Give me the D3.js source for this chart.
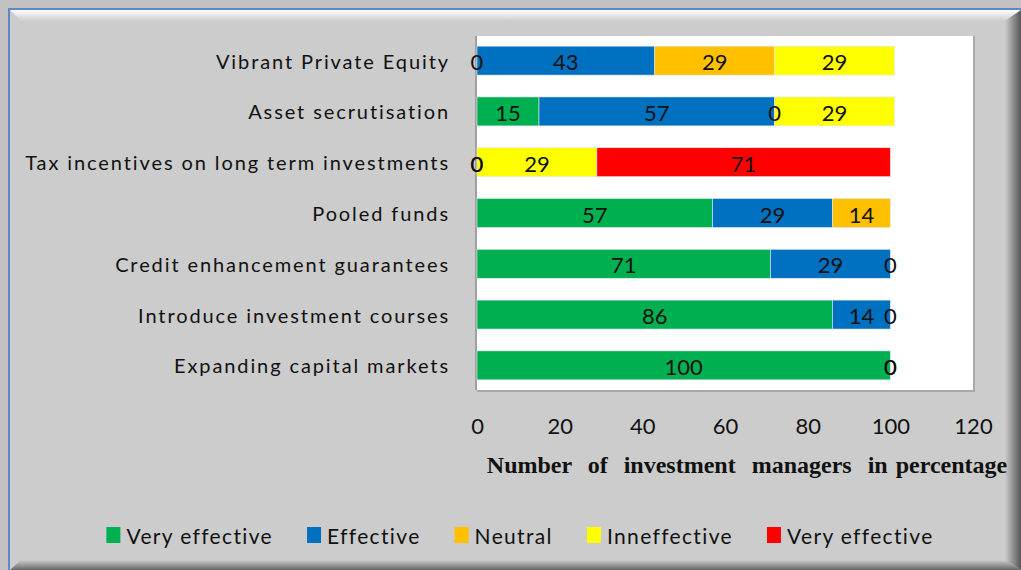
<!DOCTYPE html>
<html>
<head>
<meta charset="utf-8">
<script src="https://cdn.jsdelivr.net/npm/d3@7"></script>
<style>
  body { margin: 0; background: #c2c2c2; }
  svg text { font-family: Lato, "Open Sans", sans-serif; fill: #111; }
</style>
</head>
<body>
<svg id="chart"></svg>
<script>
const categories = [
	"Vibrant Private Equity",
	"Asset secrutisation",
	"Tax incentives on long term investments",
	"Pooled funds",
	"Credit enhancement guarantees",
	"Introduce investment courses",
	"Expanding capital markets"
];

// null = no segment / no label in that row
const veryEffective = [0, 15, 0, 57, 71, 86, 100];
const effective     = [43, 57, 0, 29, 29, 14, 0];
const neutral       = [29, 0, null, 14, 0, 0, 0];
const ineffective   = [29, 29, 29, null, null, null, null];
const veryEffective2 = [null, null, 71, null, null, null, null];

const seriesNames = ["Very effective", "Effective", "Neutral", "Inneffective", "Very effective"];
const seriesColors = ["#00b050", "#0070c0", "#ffc000", "#ffff00", "#ff0000"];
const tickValues = [0, 20, 40, 60, 80, 100, 120];
const axisTitle = "Number  of  investment  managers  in percentage";

const W = 1021, H = 570;
const plot = { left: 477, right: 973, top: 36, bottom: 390 };

const svg = d3.select("#chart").attr("width", W).attr("height", H);
const defs = svg.append("defs");

// frame / bevel
const gTop = defs.append("linearGradient").attr("id", "gTop").attr("x1", 0).attr("y1", 0).attr("x2", 0).attr("y2", 1);
gTop.append("stop").attr("offset", "0%").attr("stop-color", "#ffffff");
gTop.append("stop").attr("offset", "100%").attr("stop-color", "#cccccc");
const gRight = defs.append("linearGradient").attr("id", "gRight").attr("x1", 0).attr("y1", 0).attr("x2", 1).attr("y2", 0);
gRight.append("stop").attr("offset", "0%").attr("stop-color", "#cccccc");
gRight.append("stop").attr("offset", "100%").attr("stop-color", "#555555");
const gBottom = defs.append("linearGradient").attr("id", "gBottom").attr("x1", 0).attr("y1", 0).attr("x2", 0).attr("y2", 1);
gBottom.append("stop").attr("offset", "0%").attr("stop-color", "#cccccc");
gBottom.append("stop").attr("offset", "100%").attr("stop-color", "#666666");

svg.append("rect").attr("width", W).attr("height", H).attr("fill", "#c2c2c2");
svg.append("rect").attr("x", 9).attr("y", 9).attr("width", W - 9).attr("height", H - 9).attr("fill", "#cccccc");
svg.append("polygon").attr("points", `10,10 ${W},10 ${W - 16},21 21,21`).attr("fill", "url(#gTop)");
svg.append("polygon").attr("points", `${W - 16},21 ${W},10 ${W},${H} ${W - 16},${H - 10}`).attr("fill", "url(#gRight)");
svg.append("polygon").attr("points", `21,${H - 10} ${W - 16},${H - 10} ${W},${H} 10,${H}`).attr("fill", "url(#gBottom)");
svg.append("path").attr("d", `M9,${H} V9 H${W}`).attr("fill", "none").attr("stroke", "#5b8ac6").attr("stroke-width", 2);

// scales
const x = d3.scaleLinear().domain([0, 120]).range([plot.left, plot.right]);
const y = d3.scaleBand().domain(categories).range([plot.top, plot.bottom]).paddingInner(0.43).paddingOuter(0.2);

// plot area
svg.append("rect").attr("x", plot.left).attr("y", plot.top)
	.attr("width", plot.right - plot.left).attr("height", plot.bottom - plot.top)
	.attr("fill", "#ffffff");
svg.append("path").attr("d", `M${plot.left},${plot.bottom + 1} H${plot.right + 1} V${plot.top}`)
	.attr("fill", "none").attr("stroke", "#a8a8a8").attr("stroke-width", 2);
svg.append("line").attr("x1", plot.left - 1).attr("x2", plot.left - 1)
	.attr("y1", plot.top).attr("y2", plot.bottom)
	.attr("stroke", "#a0a0a0").attr("stroke-width", 2);

// stacked data
const seriesData = [veryEffective, effective, neutral, ineffective, veryEffective2];
const keys = seriesData.map((d, i) => "s" + i);
const rows = categories.map((c, j) => {
	const r = { category: c };
	keys.forEach((k, i) => r[k] = seriesData[i][j]);
	return r;
});
const stacked = d3.stack().keys(keys).value((d, k) => d[k] == null ? 0 : d[k])(rows);

const layers = svg.append("g").selectAll("g")
	.data(stacked)
	.join("g")
	.attr("fill", (d, i) => seriesColors[i]);

layers.selectAll("rect")
	.data((d) => d.filter((s) => s.data[d.key] != null && s.data[d.key] > 0))
	.join("rect")
	.attr("x", (d) => x(d[0]))
	.attr("y", (d) => y(d.data.category))
	.attr("width", (d) => x(d[1]) - x(d[0]))
	.attr("height", y.bandwidth())
	.attr("stroke", "#dfe8f2")
	.attr("stroke-width", 0.6);

const labels = svg.append("g");
stacked.forEach((layer) => {
	layer.forEach((s) => {
		const v = s.data[layer.key];
		if (v == null) { return; }
		labels.append("text")
			.attr("x", x((s[0] + s[1]) / 2))
			.attr("y", y(s.data.category) + y.bandwidth() / 2 + 1)
			.attr("text-anchor", "middle")
			.attr("dominant-baseline", "central")
			.style("font-size", "22px")
			.text(v);
	});
});

// category labels
svg.append("g").selectAll("text")
	.data(categories)
	.join("text")
	.attr("x", 450)
	.attr("y", (d) => y(d) + y.bandwidth() / 2)
	.attr("text-anchor", "end")
	.attr("dominant-baseline", "central")
	.style("font-size", "20px")
	.style("letter-spacing", "1.9px")
	.text((d) => d);

// x axis
const xAxis = svg.append("g")
	.attr("transform", `translate(0,${plot.bottom})`)
	.call(d3.axisBottom(x).tickValues(tickValues).tickSize(0).tickPadding(28));
xAxis.select(".domain").remove();
xAxis.selectAll("text")
	.style("font-family", "Lato, sans-serif")
	.style("font-size", "22px")
	.attr("fill", "#111");

svg.append("text")
	.attr("x", 747)
	.attr("y", 465)
	.attr("text-anchor", "middle")
	.attr("dominant-baseline", "central")
	.style("font-family", "'Liberation Serif', 'Times New Roman', serif")
	.style("font-weight", "bold")
	.style("font-size", "24px")
	.style("word-spacing", "2px")
	.style("white-space", "pre")
	.text(axisTitle);

// legend
const legend = svg.append("g");
const items = legend.selectAll("g")
	.data(seriesNames)
	.join("g");
items.append("rect")
	.attr("width", 14).attr("height", 16)
	.attr("y", -8)
	.attr("fill", (d, i) => seriesColors[i]);
items.append("text")
	.attr("x", 20)
	.attr("dominant-baseline", "central")
	.style("font-size", "21px")
	.style("letter-spacing", "1.35px")
	.text((d) => d);

let pos = 0;
items.each(function() {
	const w = 20 + this.querySelector("text").getComputedTextLength();
	d3.select(this).attr("data-x", pos);
	pos += w + 34;
});
const total = pos - 34;
const start = 520 - total / 2;
items.attr("transform", function() {
	return `translate(${start + (+this.getAttribute("data-x"))},535)`;
});
</script>
</body>
</html>
